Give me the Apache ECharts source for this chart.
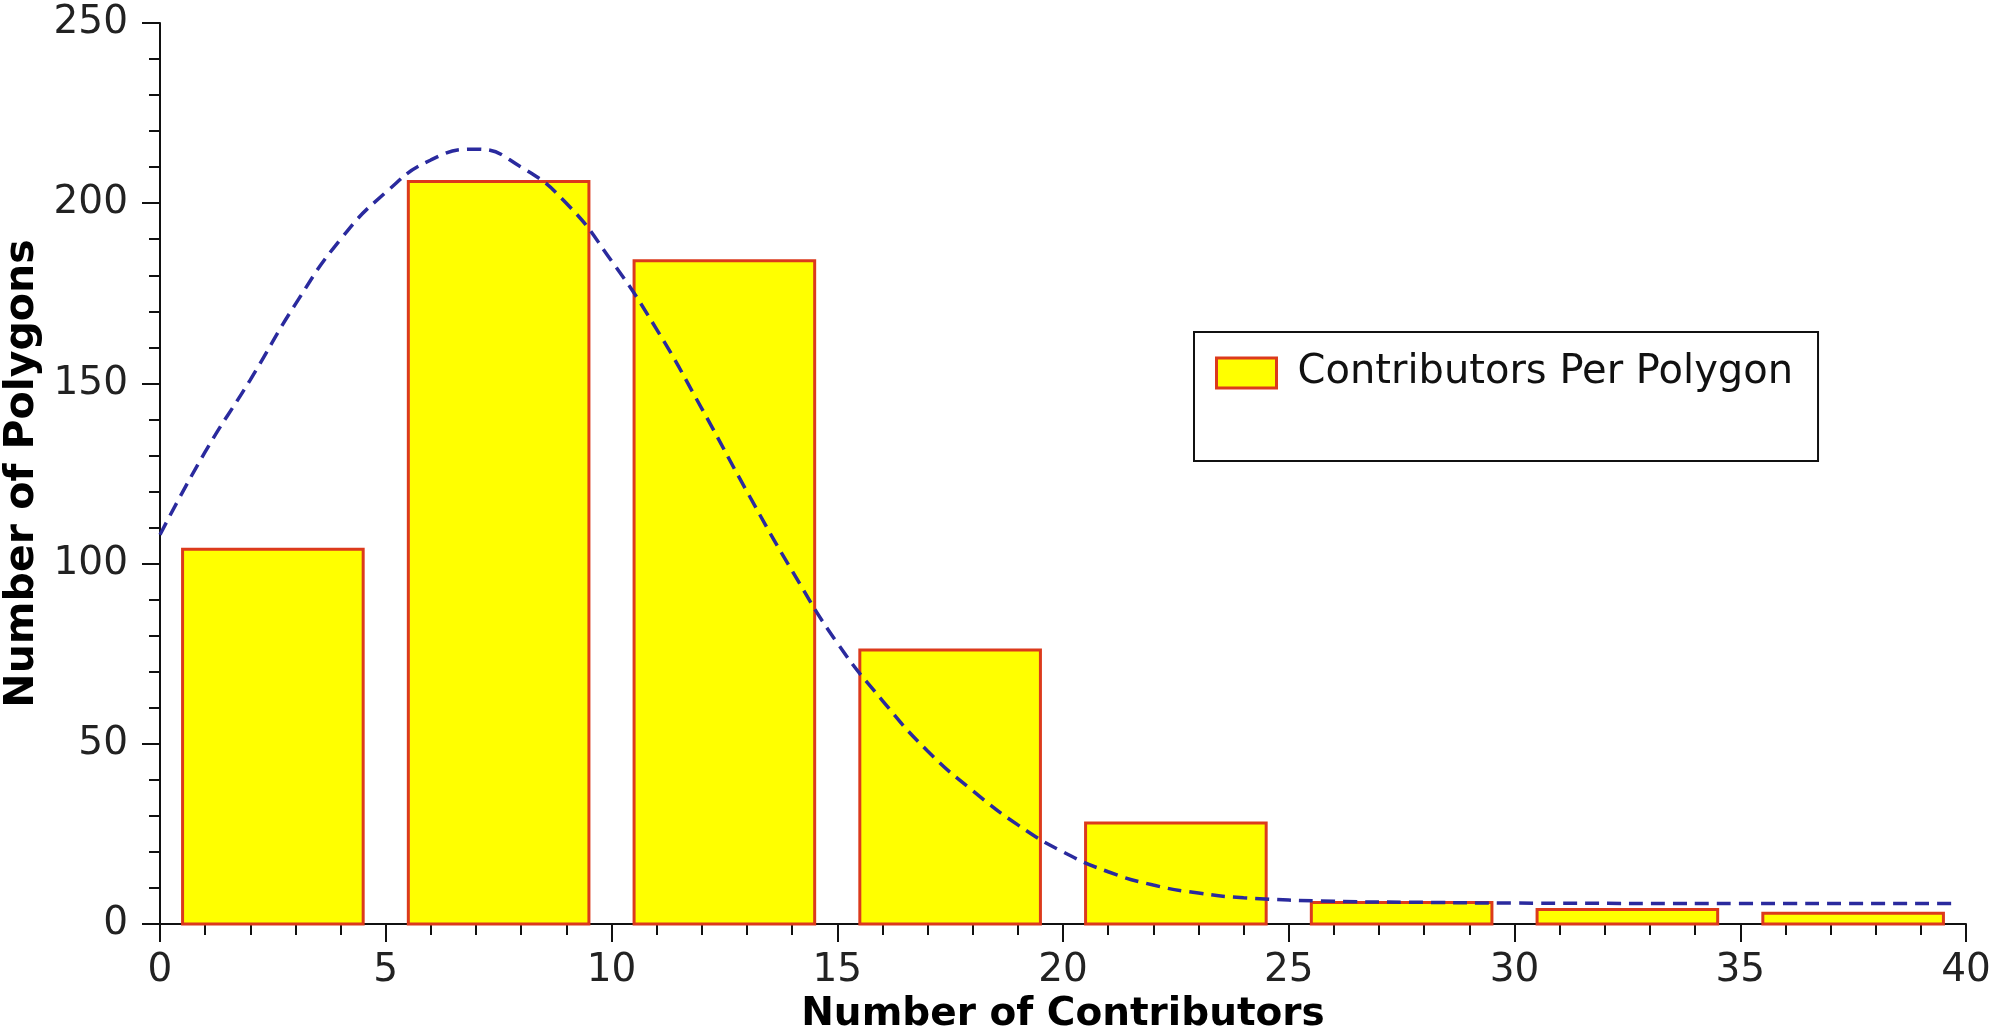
<!DOCTYPE html>
<html>
<head>
<meta charset="utf-8">
<script src="https://cdn.jsdelivr.net/npm/echarts@6/dist/echarts.min.js"></script>
<style>
html,body{margin:0;padding:0;background:#fff;}
#chart{width:2009px;height:1031px;}
</style>
</head>
<body>
<div id="chart"></div>
<script>
// Histogram bins (centre of each 5-wide bin) and counts
const binCenters = [2.5, 7.5, 12.5, 17.5, 22.5, 27.5, 32.5, 37.5];
const binCounts = [104, 206, 184, 76, 28, 6, 4, 3];

// Dashed fit curve
const curveX = [0, 1, 2, 3, 4, 5, 6, 7, 8, 9, 10, 11, 12, 13, 14, 15, 16, 17, 18, 19, 20, 21, 22, 23, 24, 26, 28, 30, 35, 39.8];
const curveY = [108, 131, 151, 172, 190, 203, 212, 215, 210, 200, 184, 165, 143, 120, 98, 78, 62, 48, 37, 27.5, 20, 14.5, 10.8, 8.6, 7.3, 6.3, 6.0, 5.8, 5.7, 5.7];

// Axis ticks
const xTicks = {min: 0, max: 40, interval: 5};
const yTicks = {min: 0, max: 250, interval: 50};

const seriesName = 'Contributors Per Polygon';
const xTitle = 'Number of Contributors';
const yTitle = 'Number of Polygons';

const barFill = '#ffff00';
const barStroke = '#dc3a1c';
const barHalfWidth = 2; // in data units (bars are 4 units wide)

const chart = echarts.init(document.getElementById('chart'), null, {renderer: 'canvas'});

const font = 'DejaVu Sans';
const axisCommon = {
  axisLine: {show: true, onZero: false, lineStyle: {color: '#111', width: 2}},
  axisTick: {show: true, inside: false, length: 18, lineStyle: {color: '#111', width: 2}},
  minorTick: {show: true, splitNumber: 5, length: 11, lineStyle: {color: '#111', width: 2}},
  splitLine: {show: false},
  minorSplitLine: {show: false},
  axisLabel: {color: '#222', fontFamily: font, fontSize: 39}
};

chart.setOption({
  animation: false,
  backgroundColor: '#fff',
  grid: {left: 160, right: 43, top: 23, bottom: 107, containLabel: false, outerBoundsMode: 'none'},
  legend: {
    data: [seriesName],
    left: 1194, top: 332,
    orient: 'vertical',
    padding: [21, 25, 68, 21],
    borderColor: '#111', borderWidth: 2,
    backgroundColor: '#fff',
    itemWidth: 60, itemHeight: 30,
    icon: 'rect',
    itemStyle: {color: barFill, borderColor: barStroke, borderWidth: 3},
    textStyle: {color: '#111', fontFamily: font, fontSize: 40, padding: [0, 0, 0, 16]}
  },
  xAxis: Object.assign({}, axisCommon, {
    type: 'value',
    min: xTicks.min, max: xTicks.max, interval: xTicks.interval,
    name: xTitle, nameLocation: 'middle', nameGap: 62,
    nameTextStyle: {color: '#000', fontFamily: font, fontSize: 39, fontWeight: 'bold'},
    axisLabel: Object.assign({}, axisCommon.axisLabel, {margin: 27})
  }),
  yAxis: Object.assign({}, axisCommon, {
    type: 'value',
    min: yTicks.min, max: yTicks.max, interval: yTicks.interval,
    name: yTitle, nameLocation: 'middle', nameGap: 114, nameRotate: 90,
    nameTextStyle: {color: '#000', fontFamily: font, fontSize: 41, fontWeight: 'bold'},
    axisLabel: Object.assign({}, axisCommon.axisLabel, {margin: 32})
  }),
  series: [
    {
      name: seriesName,
      type: 'custom',
      z: 2,
      itemStyle: {color: barFill, borderColor: barStroke, borderWidth: 3},
      encode: {x: 0, y: 1},
      data: binCenters.map((c, i) => [c, binCounts[i]]),
      renderItem: function (params, api) {
        const c = api.value(0), v = api.value(1);
        const p0 = api.coord([c - barHalfWidth, v]);
        const p1 = api.coord([c + barHalfWidth, 0]);
        return {
          type: 'rect',
          shape: {x: p0[0], y: p0[1], width: p1[0] - p0[0], height: p1[1] - p0[1]},
          style: {fill: barFill, stroke: barStroke, lineWidth: 3}
        };
      }
    },
    {
      name: 'fit',
      type: 'line',
      z: 5,
      smooth: 0.5,
      showSymbol: false,
      symbol: 'none',
      lineStyle: {color: '#2a2a9e', width: 3.5, type: [14, 8]},
      data: curveX.map((x, i) => [x, curveY[i]])
    }
  ]
});
</script>
</body>
</html>
